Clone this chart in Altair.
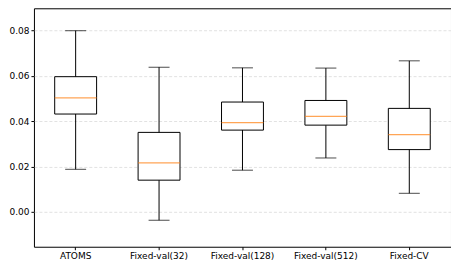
import altair as alt
import pandas as pd

categories = ["ATOMS", "Fixed-val(32)", "Fixed-val(128)", "Fixed-val(512)", "Fixed-CV"]
whisker_low = [0.0188, -0.0037, 0.0184, 0.0238, 0.0082]
q1 = [0.0432, 0.0140, 0.0361, 0.0383, 0.0275]
median = [0.0503, 0.0216, 0.0394, 0.0422, 0.0341]
q3 = [0.0597, 0.0351, 0.0485, 0.0492, 0.0457]
whisker_high = [0.0800, 0.0639, 0.0636, 0.0635, 0.0667]
y_ticks = [0.0, 0.02, 0.04, 0.06, 0.08]

df = pd.DataFrame({
    "cat": categories,
    "lo": whisker_low,
    "q1": q1,
    "med": median,
    "q3": q3,
    "hi": whisker_high,
})

FONT = "DejaVu Sans"
yscale = alt.Scale(domain=[-0.0154, 0.0899], nice=False, zero=False)
xenc = alt.X("cat:N", sort=categories, title=None,
             scale=alt.Scale(paddingInner=0, paddingOuter=0),
             axis=alt.Axis(labelAngle=0, tickSize=3, labelPadding=2, domain=False,
                           labelFont=FONT, labelFontSize=9, labelColor="black",
                           tickColor="black", grid=False))
yaxis = alt.Axis(values=y_ticks, format=".2f", tickSize=3, labelPadding=2, domain=False,
                 labelFont=FONT, labelFontSize=9, labelColor="black", tickColor="black",
                 grid=True, gridDash=[3, 2], gridColor="#d9d9d9", gridWidth=0.8)

base = alt.Chart(df).encode(x=xenc)

whisk = base.mark_rule(color="black", strokeWidth=1).encode(
    y=alt.Y("lo:Q", scale=yscale, axis=yaxis, title=None), y2="hi:Q")
box = base.mark_bar(size=42, fill="white", stroke="black", strokeWidth=1).encode(
    y=alt.Y("q1:Q", scale=yscale), y2="q3:Q")
med = base.mark_tick(size=42, thickness=1.2, color="#ff7f0e").encode(
    y=alt.Y("med:Q", scale=yscale))
cap_lo = base.mark_tick(size=21, thickness=1, color="black").encode(
    y=alt.Y("lo:Q", scale=yscale))
cap_hi = base.mark_tick(size=21, thickness=1, color="black").encode(
    y=alt.Y("hi:Q", scale=yscale))

chart = alt.layer(whisk, box, med, cap_lo, cap_hi).properties(
    width=418, height=239, padding=0, background="white"
).configure_view(stroke="black", strokeWidth=1)

chart.save("out.html", embed_options={"renderer": "svg", "actions": False})
